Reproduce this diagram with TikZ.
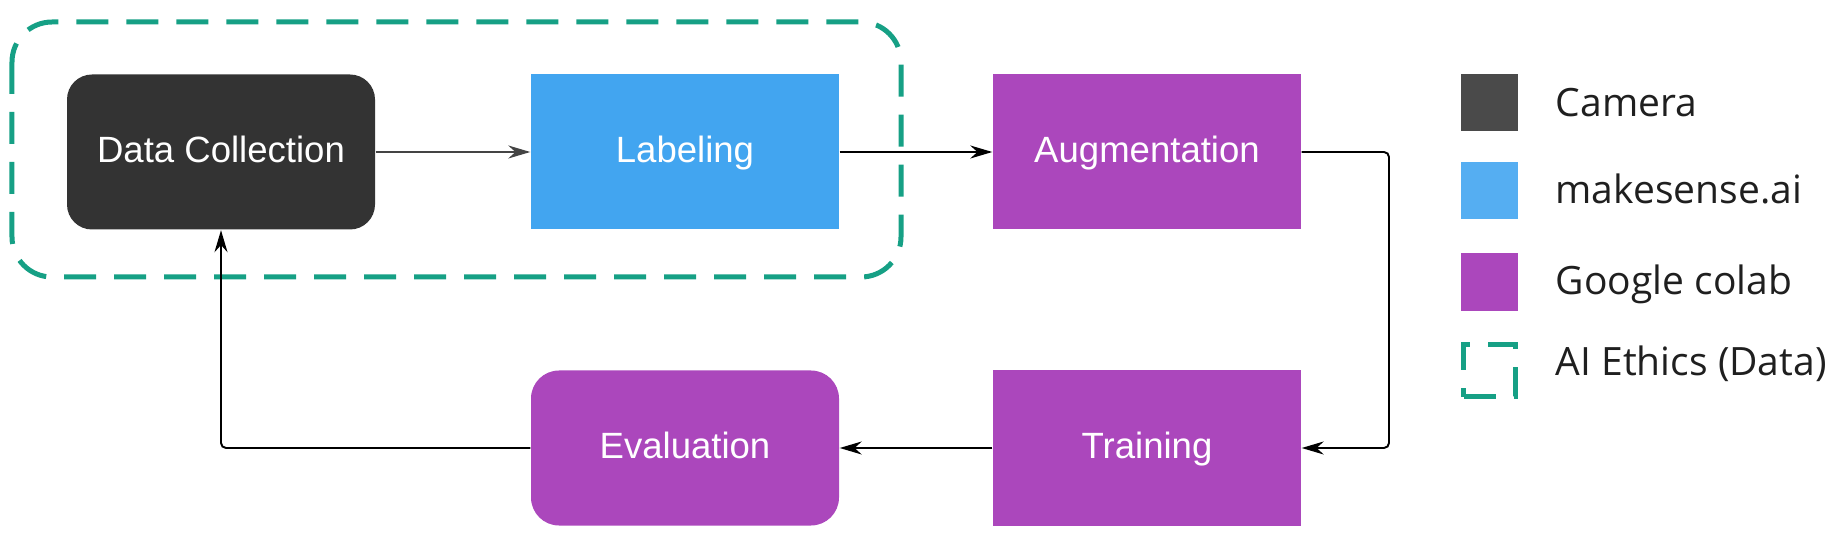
\documentclass[tikz,border=0pt]{standalone}
\usepackage{fontspec}
\setmainfont{Liberation Sans}
\newfontfamily\legendfont{Open Sans}
\usetikzlibrary{arrows.meta}
\definecolor{camgray}{RGB}{51,51,51}
\definecolor{keygray}{RGB}{74,74,74}
\definecolor{labelblue}{RGB}{66,165,240}
\definecolor{keyblue}{RGB}{85,174,242}
\definecolor{colabpurple}{RGB}{171,71,188}
\definecolor{ethicsteal}{RGB}{22,160,133}
\definecolor{arrowgray}{RGB}{68,68,68}

\begin{document}
\begin{tikzpicture}[
    stage/.style={minimum width=3.08cm, minimum height=1.55cm, inner sep=0pt,
        text=white, font=\fontsize{10.4}{12}\selectfont,
        text height=7.5pt, text depth=1.8pt},
    flow/.style={-{Stealth[length=2.2mm, width=1.3mm]}, line width=0.55pt,
        rounded corners=0.5mm},
    ethics/.style={draw=ethicsteal, line width=0.5mm, dash pattern=on 3.2mm off 1.8mm},
    key/.style={minimum size=0.57cm, inner sep=0pt},
    keytext/.style={anchor=base west, inner sep=0pt, text=black!88,
        font=\legendfont\fontsize{11.1}{13}\selectfont}
]
    \useasboundingbox (0,0) rectangle (18.38,-5.43);

    % AI ethics group
    \draw[ethics, rounded corners=4mm] (0.12,-0.22) rectangle (9.01,-2.77);

    % Pipeline stages
    \node[stage, fill=camgray, rounded corners=2.5mm] (collect) at (2.21,-1.52) {Data Collection};
    \node[stage, fill=labelblue] (label) at (6.85,-1.52) {Labeling};
    \node[stage, fill=colabpurple] (augment) at (11.47,-1.52) {Augmentation};
    \node[stage, fill=colabpurple] (train) at (11.47,-4.48) {Training};
    \node[stage, fill=colabpurple, rounded corners=2.8mm] (evaluate) at (6.85,-4.48) {Evaluation};

    % Flow
    \coordinate (turn) at (13.89,-1.52);
    \draw[flow, arrowgray] (collect) -- (label);
    \draw[flow] (label) -- (augment);
    \draw[flow] (augment.east) -- (turn) |- (train.east);
    \draw[flow] (train) -- (evaluate);
    \draw[flow] (evaluate.west) -| (collect.south);

    % Legend
    \node[key, fill=keygray] (kcam) at (14.895,-1.025) {};
    \node[key, fill=keyblue] (ksense) at (14.895,-1.91) {};
    \node[key, fill=colabpurple] (kcolab) at (14.895,-2.82) {};
    \node[key, ethics, minimum size=0.52cm] (kethics) at (14.895,-3.705) {};
    \node[keytext] (tcam) at (15.55,-1.17) {Camera};
    \node[keytext] (tsense) at (15.55,-2.04) {makesense.ai};
    \node[keytext] (tcolab) at (15.55,-2.95) {Google colab};
    \node[keytext] (tethics) at (15.55,-3.75) {AI Ethics (Data)};
\end{tikzpicture}
\end{document}
